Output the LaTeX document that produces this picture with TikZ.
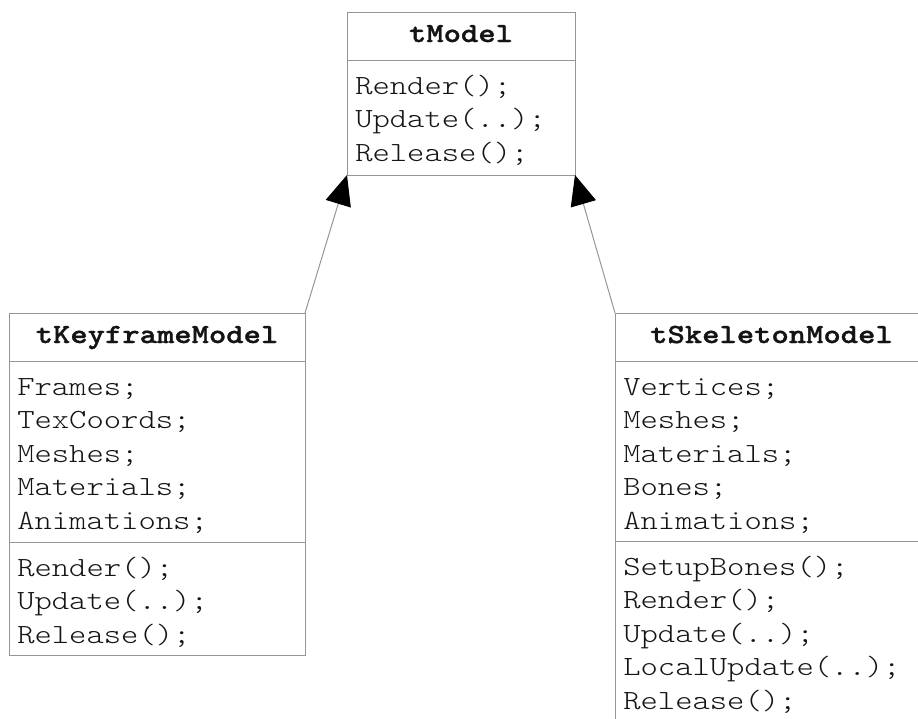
\documentclass[tikz,border=0pt]{standalone}
\usepackage{fontspec}
\usetikzlibrary{arrows.meta}
\newfontfamily\umlmono[FakeStretch=1.19]{lmmonolt10-regular.otf}
\newfontfamily\umlmonob[FakeStretch=1.19,FakeBold=1.2]{lmmonolt10-bold.otf}
\definecolor{linegray}{RGB}{150,150,150}
\definecolor{textdark}{RGB}{20,20,20}
\tikzset{
  comp/.style={draw=linegray, line width=0.75pt, inner sep=0pt, outer sep=0pt, anchor=north west, rectangle},
  item/.style={anchor=base west, inner sep=0pt, text=textdark, font={\umlmono\fontsize{20.8pt}{22pt}\selectfont}},
  head/.style={anchor=base, inner sep=0pt, text=textdark, font={\umlmonob\fontsize{20.8pt}{22pt}\selectfont}},
  inherit/.style={draw=linegray, line width=0.75pt, -{Triangle[length=22.5pt,width=19.5pt,fill=black,color=black]}},
}
\begin{document}
\begin{tikzpicture}[x=0.75pt, y=-0.75pt]
\useasboundingbox (0,0) rectangle (918,718);
\clip (0,0) rectangle (918,718);
% tModel
\node[comp, minimum width=171pt, minimum height=36pt] (tm-h) at (347,12) {};
\node[comp, minimum width=171pt, minimum height=86.25pt] (tm-b) at (347,60) {};
\node[head] (tm-name) at (461,42) {tModel};
\node[item] (tm-1) at (355,94) {Render();};
\node[item] (tm-2) at (355,127.5) {Update(..);};
\node[item] (tm-3) at (355,161) {Release();};
% tKeyframeModel
\node[comp, minimum width=222pt, minimum height=36pt] (km-h) at (9,313) {};
\node[comp, minimum width=222pt, minimum height=135.75pt] (km-a) at (9,361) {};
\node[comp, minimum width=222pt, minimum height=84.75pt] (km-m) at (9,542) {};
\node[head] (km-name) at (157,343) {tKeyframeModel};
\node[item] (km-a1) at (17,395) {Frames;};
\node[item] (km-a2) at (17,428.5) {TexCoords;};
\node[item] (km-a3) at (17,462) {Meshes;};
\node[item] (km-a4) at (17,495.5) {Materials;};
\node[item] (km-a5) at (17,529) {Animations;};
\node[item] (km-m1) at (17,576) {Render();};
\node[item] (km-m2) at (17,609.5) {Update(..);};
\node[item] (km-m3) at (17,643) {Release();};
% tSkeletonModel
\node[comp, minimum width=234.75pt, minimum height=36pt] (sk-h) at (615,313) {};
\node[comp, minimum width=234.75pt, minimum height=135pt] (sk-a) at (615,361) {};
\node[comp, minimum width=234.75pt, minimum height=138pt] (sk-m) at (615,541) {};
\node[head] (sk-name) at (771.5,343) {tSkeletonModel};
\node[item] (sk-a1) at (623,395) {Vertices;};
\node[item] (sk-a2) at (623,428.5) {Meshes;};
\node[item] (sk-a3) at (623,462) {Materials;};
\node[item] (sk-a4) at (623,495.5) {Bones;};
\node[item] (sk-a5) at (623,529) {Animations;};
\node[item] (sk-m1) at (623,575) {SetupBones();};
\node[item] (sk-m2) at (623,608.5) {Render();};
\node[item] (sk-m3) at (623,642) {Update(..);};
\node[item] (sk-m4) at (623,675.5) {LocalUpdate(..);};
\node[item] (sk-m5) at (623,709) {Release();};
% inheritance
\draw[inherit] (km-h.north east) -- (tm-b.south west);
\draw[inherit] (sk-h.north west) -- (tm-b.south east);
\end{tikzpicture}
\end{document}
